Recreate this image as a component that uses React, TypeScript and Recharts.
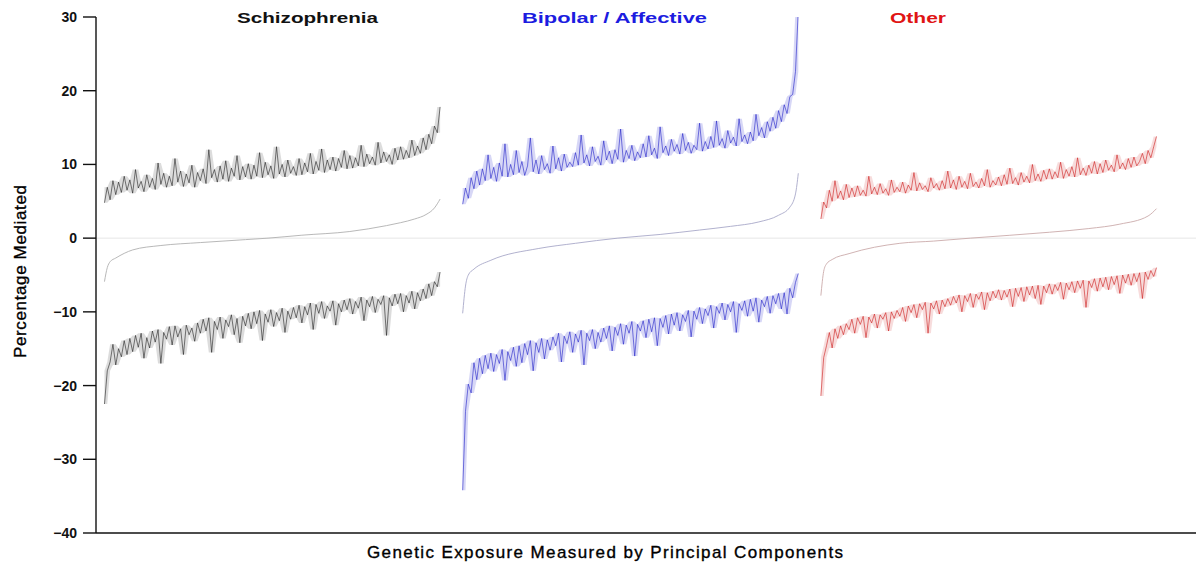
import { ComposedChart, Line, Area, XAxis, YAxis, ReferenceLine, Label } from 'recharts';

// upper / lower bounds per principal component, sorted by point estimate
const SCZ_UPPER = [
  4.8, 6.9, 5.2, 7.8, 5.9,
  7.6, 6.2, 8.4, 6.5, 7.9, 6.1, 9.3, 6.8, 7.7, 6.3, 8.6,
  6.9, 8.1, 6.6, 10.2, 7.3, 8.8, 6.9, 8.4, 7.1, 10.8, 7.6, 9.1, 7.0, 8.7, 7.5, 9.9, 6.9, 8.9,
  7.8, 9.4, 7.4, 12.0, 8.2, 9.3, 7.6, 9.8, 8.0, 10.5, 7.7, 9.5, 8.4, 11.2, 7.9, 9.7, 8.3,
  10.1, 8.0, 9.9, 8.4, 11.6, 8.2, 10.3, 8.6, 9.8, 8.1, 12.4, 8.7, 10.0, 8.3, 10.6, 8.8, 9.7, 8.5,
  10.8, 8.6, 10.2, 9.0, 11.5, 8.7, 10.4, 9.2, 12.1, 8.9, 10.6, 9.3, 11.0, 9.1, 10.8, 9.6, 11.9, 9.4,
  11.2, 9.5, 10.9, 9.8, 12.6, 9.7, 11.4, 10.1, 11.0, 9.9, 13.0, 10.2, 11.7, 10.4, 11.3, 10.0, 12.2, 10.6,
  12.4, 10.7, 11.9, 10.9, 13.3, 11.2, 12.5,
  11.5, 13.6, 12.0, 14.1, 12.8, 15.2, 14.3, 17.8,
];
const SCZ_LOWER = [
  -22.5, -18.0, -16.8,
  -14.4, -17.2, -15.0, -16.1, -13.9, -15.8,
  -13.6, -15.4, -13.2, -14.8, -12.9, -16.3, -13.5,
  -14.9, -12.6, -14.1, -12.4, -17.0, -12.8, -13.7, -12.0, -14.5, -11.9, -13.4, -12.3, -15.8, -11.8, -13.1, -12.2, -14.0, -11.5,
  -12.9, -11.0, -12.6, -10.8, -15.5, -11.3, -12.4, -10.7, -13.6, -11.1, -12.0, -10.4, -13.1, -10.9, -14.2, -10.6, -11.9,
  -10.2, -12.3, -10.0, -11.6, -9.8, -13.9, -10.3, -11.4, -9.7, -12.0, -10.1, -11.2, -9.5, -12.8, -9.9, -11.0, -9.4, -10.8,
  -9.1, -11.5, -9.3, -10.4, -8.8, -12.4, -9.0, -10.2, -8.6, -10.9, -9.2, -9.9, -8.5, -11.8, -8.9, -10.0, -8.4, -9.7,
  -8.2, -10.3, -8.6, -9.5, -8.0, -11.2, -8.4, -9.3, -7.9, -10.1, -8.3, -9.0, -7.8, -13.2, -8.1, -9.2, -7.6, -8.9,
  -7.5, -10.0, -7.8, -8.8, -7.2, -9.6, -7.4, -8.5, -6.9, -8.2,
  -6.2, -7.8, -5.9, -6.6, -4.6,
];
const SCZ_MID_IDX = [0, 1, 2, 4, 10, 20, 34, 50, 58, 70, 87, 100, 105, 110, 114, 117, 119];
const SCZ_MID = [-5.9, -4.0, -3.2, -2.7, -1.6, -1.0, -0.6, -0.2, 0.0, 0.4, 0.9, 1.7, 2.1, 2.6, 3.2, 4.1, 5.3];

const BIP_UPPER = [
  4.6, 6.8, 5.4, 8.2, 6.7, 9.1,
  7.2, 9.4, 7.8, 11.3, 8.1, 9.6, 7.7, 10.2, 8.4, 12.8,
  8.3, 10.0, 8.6, 11.9, 8.9, 10.4, 8.5, 9.8, 13.6, 9.0, 10.6, 8.7, 11.2, 9.3, 10.1, 8.8, 12.5, 9.4, 10.9, 9.1, 11.4, 9.6, 10.3,
  9.7, 11.6, 9.9, 14.0, 10.2, 11.3, 9.8, 12.4, 10.4, 11.1, 9.9, 13.2, 10.6, 11.8, 10.1, 12.0, 10.7, 14.8, 10.3, 11.9, 10.8, 12.6, 10.5, 11.7,
  10.9, 12.8, 11.0, 13.9, 11.3, 12.2, 10.8, 15.1, 11.6, 12.5, 11.2, 13.4, 11.8, 12.7, 11.4, 14.2, 11.9, 13.0, 11.5, 12.6, 12.0, 15.6, 11.8, 13.1,
  12.1, 13.8, 12.3, 15.9, 12.6, 13.5, 12.2, 14.6, 12.9, 13.7, 12.5, 16.2, 13.1, 14.0, 12.8,
  14.4, 13.2, 16.8, 13.9, 15.0, 13.6, 15.8, 14.5,
  16.4, 14.9, 17.3, 15.8,
  18.1, 16.9, 19.2,
  19.5, 22.6, 31.0,
];
const BIP_LOWER = [
  -34.2, -23.5, -19.8,
  -21.0, -16.9, -19.2, -16.3, -18.4, -15.9, -17.7,
  -15.6, -18.1, -15.8, -17.0, -15.1, -19.3, -15.4, -16.6, -14.8, -17.4,
  -14.6, -16.9, -14.3, -15.8, -13.9, -18.0, -14.2, -15.5, -13.6, -16.4, -13.8,
  -15.2, -13.4, -14.6, -12.9, -16.8, -13.3, -14.3, -12.7, -15.5, -13.0, -14.1, -12.5, -17.2, -12.9, -13.9, -12.4, -15.0, -12.8,
  -14.1, -12.2, -13.6, -11.9, -15.3, -12.1, -13.2, -11.6, -14.4, -11.8, -12.9, -11.3, -16.0, -11.7, -12.6, -11.2, -13.5,
  -11.0, -12.7, -10.8, -14.6, -10.9, -12.1, -10.5, -13.0, -10.3, -11.8, -10.1, -12.6, -10.4, -11.3, -9.8, -13.4, -9.9, -11.0,
  -9.4, -11.6, -9.6, -10.5, -9.1, -12.2, -9.3, -10.2, -8.8, -11.1, -9.0, -10.0, -8.6, -12.8, -8.9, -9.8, -8.5, -10.6,
  -8.3, -9.9, -8.1, -11.4, -8.4, -9.3, -7.9, -10.2, -7.8, -8.9, -7.5, -9.6, -7.4, -10.3,
  -6.8, -8.1, -6.0, -4.8,
];
const BIP_MID_IDX = [0, 1, 2, 4, 10, 27, 40, 55, 70, 84, 95, 105, 112, 116, 118, 119];
const BIP_MID = [-10.2, -6.5, -5.0, -4.2, -3.0, -1.4, -0.7, 0.0, 0.5, 1.1, 1.6, 2.2, 3.1, 4.2, 6.0, 8.8];

const OTH_UPPER = [
  2.6, 4.9, 4.1,
  6.5, 5.0, 7.8, 5.4, 6.4, 5.2, 7.3,
  5.5, 6.8, 5.6, 7.1, 5.8, 6.5, 5.7, 8.4, 6.0, 6.9, 5.9, 7.4, 6.1, 6.7, 5.8, 7.9, 6.2, 6.9,
  6.3, 7.6, 6.1, 7.2, 6.5, 8.9, 6.4, 7.5, 6.6, 7.1, 6.3, 8.2, 6.8, 7.4, 6.5, 7.8, 6.7, 9.1,
  6.8, 7.9, 6.6, 8.4, 6.9, 7.7, 6.7, 8.8, 7.0, 7.6, 6.8, 8.1, 7.1, 9.3, 6.9, 7.8, 7.2,
  8.3, 7.1, 8.6, 7.3, 9.5, 7.4, 8.2, 7.2, 8.9, 7.6, 8.4, 7.5, 10.0, 7.8, 8.7, 7.7, 9.2, 8.0,
  9.4, 8.0, 9.0, 8.2, 10.3, 8.1, 9.3, 8.4, 9.7, 8.3, 10.9, 8.6, 9.5, 8.5, 9.9, 8.8, 10.4, 8.7,
  10.1, 8.9, 10.6, 9.2, 9.9, 9.0, 11.3, 9.4, 10.2, 9.3, 10.8, 9.6, 11.0, 9.8,
  10.4, 11.5, 10.1, 11.9, 10.9, 12.4, 13.8,
];
const OTH_LOWER = [
  -21.4, -16.2, -14.6,
  -12.8, -14.9, -12.3, -13.6, -11.9, -13.1, -11.6,
  -12.4, -11.0, -12.9, -10.8, -11.7, -10.6, -13.5, -10.7, -11.5, -10.3, -12.2, -10.4, -11.0, -10.1, -12.6, -10.0, -10.9, -9.8,
  -10.6, -9.4, -11.3, -9.2, -10.1, -9.0, -10.8, -8.9, -9.7, -8.7, -12.9, -8.8, -9.6, -8.5, -10.3, -8.4, -9.3, -8.2,
  -9.1, -7.9, -8.8, -7.7, -10.0, -7.8, -8.6, -7.5, -9.4, -7.6, -8.3, -7.3, -9.7, -7.4, -8.5, -7.2, -8.1,
  -7.0, -8.4, -7.1, -8.0, -6.9, -9.3, -6.8, -7.9, -6.7, -8.6, -6.6, -7.7, -6.5, -8.2, -6.4, -9.0, -6.5, -7.4,
  -6.2, -7.6, -6.3, -7.1, -6.0, -8.3, -6.1, -7.0, -5.9, -7.4, -5.8, -6.8, -5.7, -9.4, -5.8, -6.7, -5.5, -7.2,
  -5.4, -6.6, -5.3, -7.0, -5.2, -6.3, -5.1, -7.5, -5.0, -6.1, -4.9, -6.4, -4.8, -5.9, -4.7, -8.2, -4.6, -5.6, -4.4, -5.2, -4.0,
];
const OTH_MID_IDX = [0, 1, 2, 4, 10, 28, 40, 53, 81, 95, 106, 116, 119];
const OTH_MID = [-7.8, -4.5, -3.5, -2.9, -2.1, -0.7, -0.4, 0.0, 0.8, 1.3, 1.9, 3.0, 4.0];

const Y_TICKS = [-40, -30, -20, -10, 0, 10, 20, 30];

const GROUPS = [
  { name: 'Schizophrenia', offset: 3, upper: SCZ_UPPER, lower: SCZ_LOWER, midIdx: SCZ_MID_IDX, mid: SCZ_MID, color: '#1e1e1e', fill: '#9a9a9a', midColor: '#b0b0b0' },
  { name: 'Bipolar / Affective', offset: 130, upper: BIP_UPPER, lower: BIP_LOWER, midIdx: BIP_MID_IDX, mid: BIP_MID, color: '#1f1fc8', fill: '#8c8ce4', midColor: '#a8a8c8' },
  { name: 'Other', offset: 257, upper: OTH_UPPER, lower: OTH_LOWER, midIdx: OTH_MID_IDX, mid: OTH_MID, color: '#cc1a1a', fill: '#e89a9a', midColor: '#cbaaaa' },
];

// title placement in px (the original titles are set in a wide bold face)
const TITLES = [
  { text: 'Schizophrenia', x: 237, w: 141, color: '#111111' },
  { text: 'Bipolar / Affective', x: 522, w: 185, color: '#1c1ce0' },
  { text: 'Other', x: 890, w: 56, color: '#e01414' },
];

const FONT = '"Liberation Sans", Arial, Helvetica, sans-serif';

// jagged hull around a zig-zag series: min / max of each value and its neighbours
const hull = (vals: number[], i: number): [number, number] => {
  const near = vals.slice(Math.max(0, i - 1), i + 2);
  return [Math.min(...near), Math.max(...near)];
};

export default function App() {
  const series = GROUPS.map(g => ({
    ...g,
    rows: g.upper.map((u, i) => ({
      x: g.offset + i,
      up: u,
      lo: g.lower[i],
      upBand: hull(g.upper, i),
      loBand: hull(g.lower, i),
    })),
    midRows: g.midIdx.map((k, j) => ({ x: g.offset + k, mid: g.mid[j] })),
  }));

  return (
    <div style={{ position: 'relative', width: 1196, height: 566, background: '#fff' }}>
      <style>{'body{margin:0}'}</style>
      <ComposedChart width={1196} height={566} margin={{ top: 17, right: 0, bottom: 3, left: 20 }}>
        <XAxis
          type="number"
          dataKey="x"
          domain={[0, 390]}
          height={30}
          tick={false}
          tickLine={false}
          axisLine={{ stroke: '#111', strokeWidth: 1.6 }}
        >
          <Label
            content={() => (
              <text
                x={367}
                y={558}
                textLength={476}
                lengthAdjust="spacing"
                fontFamily={FONT}
                fontSize={17}
                fill="#000"
                stroke="#000"
                strokeWidth={0.35}
              >
                Genetic Exposure Measured by Principal Components
              </text>
            )}
          />
        </XAxis>
        <YAxis
          type="number"
          domain={[-40, 30]}
          ticks={Y_TICKS}
          allowDataOverflow
          width={76}
          tickSize={13}
          tickMargin={6}
          axisLine={{ stroke: '#111', strokeWidth: 1.4 }}
          tickLine={{ stroke: '#111', strokeWidth: 1.4 }}
          tick={{ fontFamily: FONT, fontSize: 14, fontWeight: 'bold', fill: '#111' }}
          tickFormatter={(v: number) => (v < 0 ? `\u2212${-v}` : `${v}`)}
        >
          <Label
            content={() => (
              <text
                x={20}
                y={358}
                transform="rotate(-90 20 358)"
                textLength={173}
                lengthAdjust="spacing"
                dominantBaseline="central"
                fontFamily={FONT}
                fontSize={17}
                fill="#000"
                stroke="#000"
                strokeWidth={0.35}
              >
                Percentage Mediated
              </text>
            )}
          />
        </YAxis>
        <ReferenceLine y={0} stroke="#e6e6e6" strokeWidth={1} />
        {series.map(g => (
          <Line
            key={g.name + '-mid'}
            data={g.midRows}
            dataKey="mid"
            type="monotone"
            stroke={g.midColor}
            strokeWidth={0.9}
            dot={false}
            isAnimationActive={false}
          />
        ))}
        {series.map(g => (
          <Area
            key={g.name + '-upBand'}
            data={g.rows}
            dataKey="upBand"
            type="linear"
            stroke="none"
            fill={g.fill}
            fillOpacity={0.35}
            isAnimationActive={false}
          />
        ))}
        {series.map(g => (
          <Area
            key={g.name + '-loBand'}
            data={g.rows}
            dataKey="loBand"
            type="linear"
            stroke="none"
            fill={g.fill}
            fillOpacity={0.35}
            isAnimationActive={false}
          />
        ))}
        {series.map(g => (
          <Line
            key={g.name + '-up'}
            data={g.rows}
            dataKey="up"
            type="linear"
            stroke={g.color}
            strokeOpacity={0.85}
            strokeWidth={0.7}
            dot={false}
            isAnimationActive={false}
          />
        ))}
        {series.map(g => (
          <Line
            key={g.name + '-lo'}
            data={g.rows}
            dataKey="lo"
            type="linear"
            stroke={g.color}
            strokeOpacity={0.85}
            strokeWidth={0.7}
            dot={false}
            isAnimationActive={false}
          />
        ))}
      </ComposedChart>
      <svg width={1196} height={40} style={{ position: 'absolute', left: 0, top: 0, pointerEvents: 'none' }}>
        {TITLES.map(t => (
          <text
            key={t.text}
            x={t.x}
            y={23}
            textLength={t.w}
            lengthAdjust="spacingAndGlyphs"
            fontFamily={FONT}
            fontSize={14}
            fontWeight="bold"
            fill={t.color}
          >
            {t.text}
          </text>
        ))}
      </svg>
    </div>
  );
}
